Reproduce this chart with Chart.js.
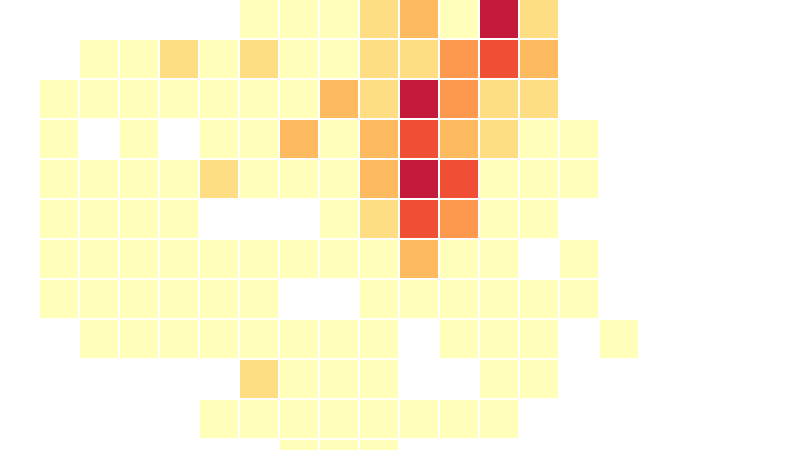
<!DOCTYPE html>
<html>
<head>
<meta charset="utf-8">
<script src="https://cdn.jsdelivr.net/npm/chart.js@4/dist/chart.umd.min.js"></script>
<style>
html,body{margin:0;padding:0;background:#fff;}
#wrap{width:800px;height:450px;position:relative;}
</style>
</head>
<body>
<div id="wrap"><canvas id="c"></canvas></div>
<script>
// Column indices (0..15) and colour level per cell (0 = empty)
const columns = [0,1,2,3,4,5,6,7,8,9,10,11,12,13,14,15];
const row0  = [0,0,0,0,0,0,1,1,1,2,3,1,6,2,0,0];
const row1  = [0,0,1,1,2,1,2,1,1,2,2,4,5,3,0,0];
const row2  = [0,1,1,1,1,1,1,1,3,2,6,4,2,2,0,0];
const row3  = [0,1,0,1,0,1,1,3,1,3,5,3,2,1,1,0];
const row4  = [0,1,1,1,1,2,1,1,1,3,6,5,1,1,1,0];
const row5  = [0,1,1,1,1,0,0,0,1,2,5,4,1,1,0,0];
const row6  = [0,1,1,1,1,1,1,1,1,1,3,1,1,0,1,0];
const row7  = [0,1,1,1,1,1,1,0,0,1,1,1,1,1,1,0];
const row8  = [0,0,1,1,1,1,1,1,1,1,0,1,1,1,0,1];
const row9  = [0,0,0,0,0,0,2,1,1,1,0,0,1,1,0,0];
const row10 = [0,0,0,0,0,1,1,1,1,1,1,1,1,0,0,0];
const row11 = [0,0,0,0,0,0,0,1,1,1,0,0,0,0,0,0];
const rows = [row0,row1,row2,row3,row4,row5,row6,row7,row8,row9,row10,row11];
const levelNames = ['1','2','3','4','5','6'];
const levelColors = ['rgba(255,255,178,0.9)','rgba(254,217,118,0.9)','rgba(254,178,76,0.9)','rgba(253,141,60,0.9)','rgba(240,59,32,0.9)','rgba(189,0,38,0.9)'];

const datasets = levelNames.map((n,i)=>({label:n,data:[],backgroundColor:levelColors[i],borderWidth:0}));
rows.forEach((row,r)=>{
  row.forEach((v,ci)=>{
    if(v>0) datasets[v-1].data.push({x:columns[ci], y:[r, r+0.95]});
  });
});

new Chart(document.getElementById('c'),{
  type:'bar',
  data:{datasets},
  options:{
    responsive:true,
    maintainAspectRatio:false,
    animation:false,
    layout:{padding:0},
    datasets:{bar:{grouped:false,categoryPercentage:1,barPercentage:0.95}},
    plugins:{legend:{display:false},tooltip:{enabled:false}},
    scales:{
      x:{type:'linear',min:-0.475,max:19.525,offset:false,bounds:'ticks',display:false},
      y:{type:'linear',min:0,max:11.25,reverse:true,offset:false,display:false}
    }
  }
});
</script>
</body>
</html>
